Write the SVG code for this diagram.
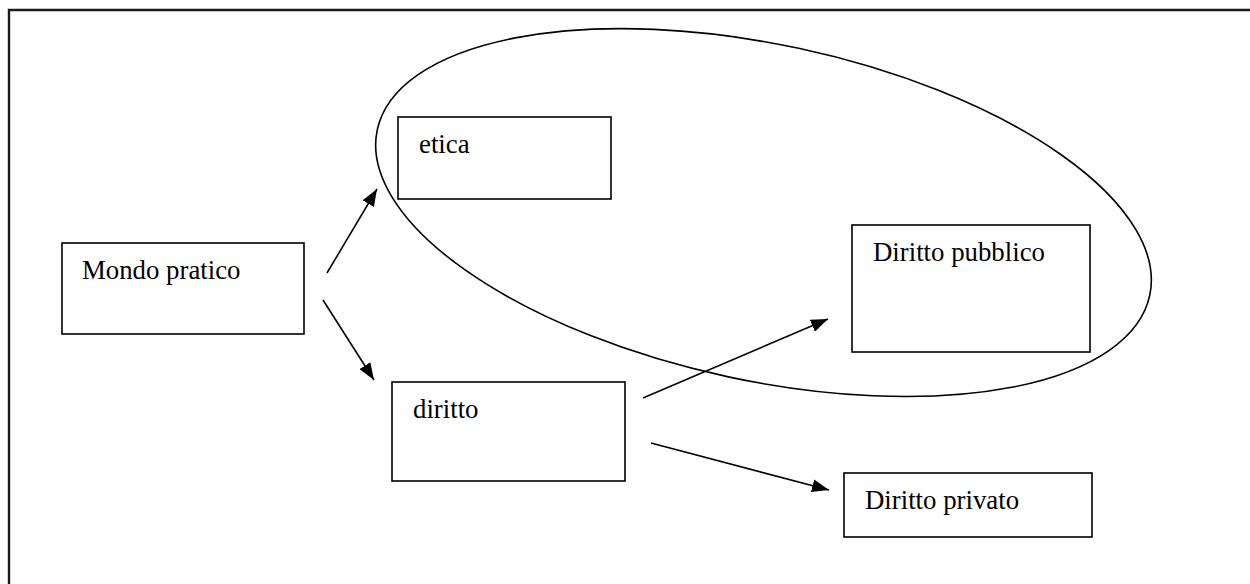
<svg xmlns="http://www.w3.org/2000/svg" width="1250" height="584" viewBox="0 0 1250 584">
<style>
.box{fill:#fff;stroke:#000;stroke-width:1.6}
.lbl{font-family:"Liberation Serif","Times New Roman",serif;font-size:26.8px;fill:#000}
.conn{stroke:#000;stroke-width:1.6;fill:none;marker-end:url(#ah)}
</style>
<defs>
<marker id="ah" viewBox="0 0 17 13" refX="17" refY="6.5" markerWidth="17" markerHeight="13" markerUnits="userSpaceOnUse" orient="auto">
<path d="M0,0 L17,6.5 L0,13 z" fill="#000"/>
</marker>
</defs>
<rect width="1250" height="584" fill="#fff"/>
<path d="M9,584 V10 H1250" fill="none" stroke="#1a1a1a" stroke-width="2.4"/>
<g id="nodes">
<g id="mondo"><rect class="box" x="62" y="243" width="242" height="91"/><text class="lbl" x="82" y="279">Mondo pratico</text></g>
<g id="etica"><rect class="box" x="398" y="117" width="213" height="82"/><text class="lbl" x="419" y="153">etica</text></g>
<g id="diritto"><rect class="box" x="392" y="382" width="233" height="99"/><text class="lbl" x="413" y="418">diritto</text></g>
<g id="pubblico"><rect class="box" x="852" y="225" width="238" height="127"/><text class="lbl" x="873" y="261">Diritto pubblico</text></g>
<g id="privato"><rect class="box" x="844" y="473" width="248" height="64"/><text class="lbl" x="865" y="509">Diritto privato</text></g>
</g>
<g id="ellipse"><ellipse cx="763.5" cy="212.6" rx="395" ry="168" transform="rotate(12.1 763.5 212.6)" fill="none" stroke="#000" stroke-width="1.6"/></g>
<g id="connectors">
<line class="conn" x1="327" y1="273" x2="377" y2="189"/>
<line class="conn" x1="323" y1="300" x2="374" y2="380"/>
<line class="conn" x1="643" y1="398" x2="828" y2="319"/>
<line class="conn" x1="651" y1="443" x2="829" y2="490"/>
</g>
</svg>
